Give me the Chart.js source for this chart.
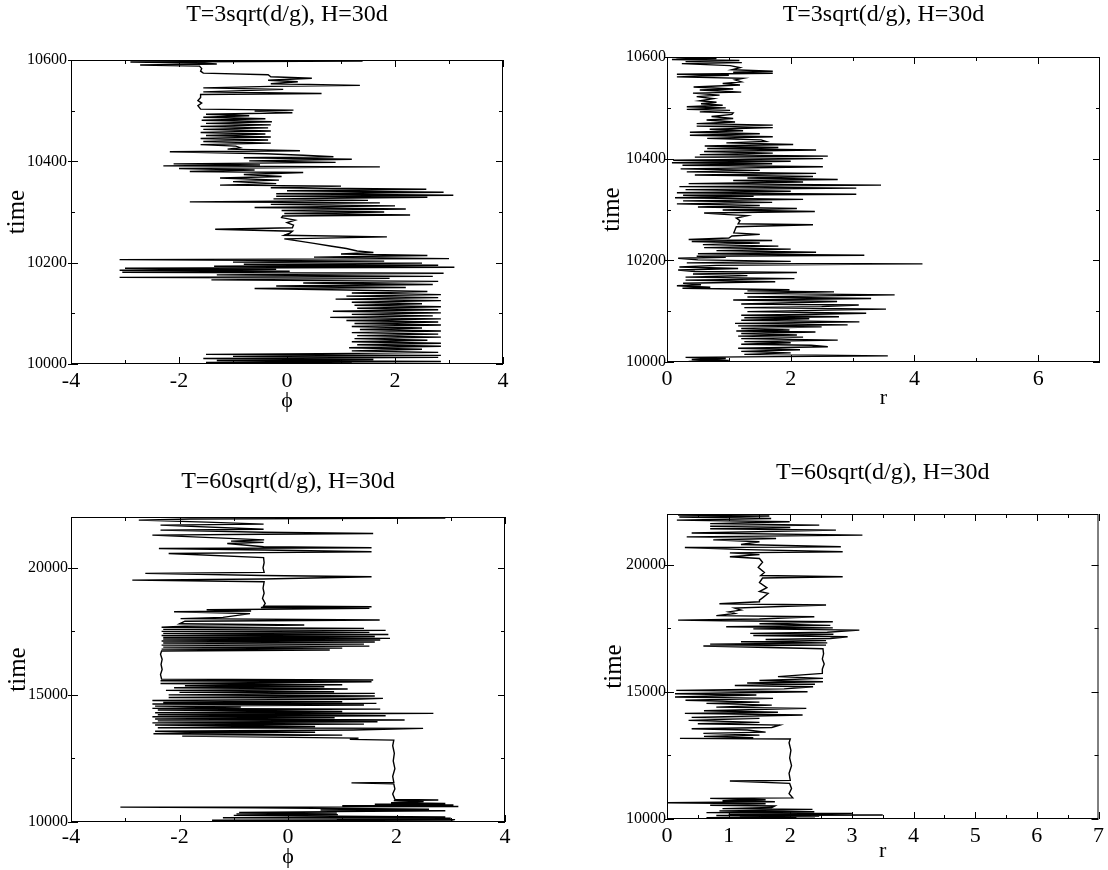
<!DOCTYPE html>
<html lang="en">
<head>
<meta charset="UTF-8">
<title>phi and r against time</title>
<script src="https://cdn.jsdelivr.net/npm/chart.js"></script>
<style>
  body { margin: 0; background: #fff; }
  canvas { position: absolute; }
</style>
</head>
<body>
<canvas id="c1" width="560" height="420" style="left:0px;top:0px"></canvas>
<canvas id="c2" width="548" height="420" style="left:560px;top:0px"></canvas>
<canvas id="c3" width="560" height="450" style="left:0px;top:420px"></canvas>
<canvas id="c4" width="548" height="450" style="left:560px;top:420px"></canvas>

<script>
// panel titles
var titleShort = 'T=3sqrt(d/g), H=30d';
var titleLong = 'T=60sqrt(d/g), H=30d';

// tick values
var phiTicks = [-4, -2, 0, 2, 4];
var phiMinor = [-3, -1, 1, 3];
var rTicksShort = [0, 2, 4, 6];
var rMinorShort = [1, 3, 5];
var rTicksLong = [0, 1, 2, 3, 4, 5, 6, 7];
var rMinorLong = [0.5, 1.5, 2.5, 3.5, 4.5, 5.5, 6.5];
var timeTicksShort = [10000, 10200, 10400, 10600];
var timeMinorShort = [10100, 10300, 10500];
var timeTicksLong = [10000, 15000, 20000];
var timeMinorLong = [12500, 17500];

// traces: [time, value]
var phiShort = [
  [10001,1.2],[10003,-1.5],[10005,2.85],[10007,-1.3],[10009,1.6],[10011,-1.55],[10013,2.8],[10015,-1.0],[10017,2.85],[10019,-1.5],[10021,1.3],
  [10023,2.8],[10026,1.2],[10029,2.5],[10032,1.15],[10035,2.85],[10038,1.3],[10041,2.85],[10044,1.2],[10047,2.6],[10050,1.25],
  [10053,2.85],[10056,1.3],[10059,2.8],[10062,1.2],[10065,2.85],[10068,1.35],[10071,2.5],[10074,1.2],[10077,2.85],[10080,1.25],
  [10083,2.8],[10086,1.1],[10089,2.85],[10092,0.8],[10095,2.7],[10098,1.2],[10101,2.85],[10104,0.85],[10107,2.8],[10110,1.3],
  [10113,2.85],[10116,1.25],[10119,2.5],[10122,1.2],[10125,2.85],[10128,0.9],[10131,2.8],[10134,1.1],[10137,2.85],[10140,1.2],
  [10143,2.6],[10146,1.1],
  [10149,-0.6],[10151,2.2],[10154,-0.2],[10157,2.7],[10160,0.3],[10163,2.8],[10166,-1.4],[10169,1.9],[10171,-3.1],[10173,2.7],
  [10176,-1.3],[10179,2.9],[10181,-3.05],[10183,0.05],[10185,-3.1],[10187,-0.2],[10189,-3.0],[10191,3.1],[10193,-1.35],[10195,2.8],
  [10197,-0.8],[10199,2.5],[10201,-1.0],[10203,1.8],[10206,-3.1],[10208,3.0],[10211,0.5],[10214,2.6],[10217,1.0],[10220,1.6],[10223,1.3],
  [10228,1.1],[10233,0.8],[10238,0.5],[10243,0.2],[10247,-0.05],[10251,1.85],[10254,-0.05],[10258,0.05],[10262,0.1],[10266,-1.33],
  [10269,0.1],[10274,0.12],[10279,0.0],[10284,0.15],[10289,-0.1],[10292,-0.08],[10294,2.28],[10297,-0.05],[10300,1.8],[10303,-0.1],
  [10306,2.2],[10309,-0.6],[10312,2.0],[10315,-0.3],[10318,1.72],[10320,-1.8],[10323,1.5],[10326,-0.25],[10329,2.6],[10331,-0.2],
  [10333,3.08],[10336,-0.2],[10339,2.9],[10342,0.0],[10345,2.58],[10348,-0.3],[10351,1.0],[10353,-1.24],[10356,-0.2],[10360,-1.0],
  [10363,-0.15],[10367,-1.24],[10370,-0.1],[10374,-0.8],[10378,0.3],[10380,-1.8],[10383,-0.6],[10386,-2.0],[10389,1.72],[10391,-2.29],
  [10393,-0.5],[10395,-2.1],[10398,0.9],[10401,-0.7],[10404,1.2],[10407,-0.8],[10409,0.86],[10412,0.3],[10415,-0.4],[10419,-2.17],
  [10421,0.24],[10424,-1.1],[10427,-0.87],[10430,-0.95],
  [10433,-1.6],[10436,-0.3],[10439,-1.55],[10442,-0.35],[10445,-1.6],[10448,-0.3],[10451,-1.5],[10454,-0.4],[10457,-1.6],[10460,-0.3],
  [10463,-1.55],[10466,-0.35],[10469,-1.6],[10472,-0.3],[10475,-1.5],[10478,-0.28],[10481,-1.58],[10484,-0.4],[10487,-1.55],[10490,-0.7],
  [10493,-1.5],[10496,0.1],[10499,-0.6],[10501,0.12],[10503,-1.6],
  [10510,-1.65],[10515,-1.58],[10520,-1.65],[10526,-1.6],[10532,-1.6],[10534,0.64],[10537,-1.55],[10542,-0.07],[10545,-1.55],[10548,-0.3],
  [10550,1.35],[10553,-0.3],[10557,0.2],[10560,-0.35],[10564,0.46],[10567,-0.3],[10571,-0.35],[10574,-1.55],[10578,-1.6],[10583,-1.58],
  [10588,-1.62],[10590,-2.72],[10592,-1.3],[10594,-1.6],[10596,-2.9],[10598,1.4],[10600,-1.5]
];

var rShort = [
  [10001,0.35],[10003,1.0],[10005,0.4],[10007,0.95],[10009,0.3],[10010,1.2],[10012,3.57],[10015,1.25],[10018,2.0],[10021,1.2],
  [10024,2.15],[10027,1.15],[10030,2.6],[10033,2.33],[10035,1.2],[10038,2.0],[10040,1.25],[10043,2.76],[10046,1.2],[10049,2.2],
  [10051,1.15],[10053,2.1],[10056,1.2],[10059,2.4],[10061,1.12],[10063,1.98],[10066,1.2],[10069,2.5],[10071,1.15],[10073,2.92],
  [10076,1.1],[10079,3.11],[10082,1.2],[10085,2.3],[10087,1.25],[10089,2.78],[10092,1.2],[10094,2.4],[10096,3.22],[10099,1.3],
  [10102,2.6],[10104,3.54],[10107,1.25],[10109,2.5],[10112,3.1],[10114,1.2],[10117,2.2],[10119,2.75],[10122,1.07],[10125,3.3],
  [10128,1.3],[10130,2.5],[10132,3.68],[10135,1.25],[10138,2.7],[10140,1.3],[10142,1.98],
  [10145,0.25],[10147,0.7],[10150,0.16],[10152,0.55],[10155,0.26],[10158,1.75],[10161,0.3],[10164,2.06],[10167,0.3],[10170,1.3],
  [10173,0.42],[10176,2.1],[10178,0.45],[10181,0.18],[10184,1.15],[10187,0.2],[10190,0.8],[10193,4.13],[10195,0.32],[10198,2.0],
  [10201,0.5],[10204,0.18],[10206,0.95],[10208,0.48],[10210,3.19],[10213,0.5],[10216,2.41],[10219,0.8],[10222,2.0],[10225,0.6],
  [10228,1.8],[10231,0.58],[10234,1.5],[10237,0.4],[10239,1.7],[10241,0.35],[10244,1.0],
  [10248,1.05],[10251,1.5],[10254,1.08],[10260,1.1],[10266,1.12],[10270,2.36],[10272,1.15],[10278,1.18],[10283,1.12],[10288,1.3],
  [10290,0.99],[10293,0.6],[10296,2.39],[10299,0.9],[10302,2.1],[10305,0.5],[10308,1.5],[10311,0.16],[10314,1.7],[10317,0.26],
  [10320,2.2],[10323,0.13],[10326,1.4],[10328,0.26],[10330,3.06],[10333,0.16],[10336,2.0],[10339,0.3],[10342,3.06],[10345,0.2],
  [10348,3.46],[10351,0.35],[10354,2.2],[10357,1.07],[10359,2.76],[10362,1.3],[10365,2.36],[10368,0.45],[10371,2.41],[10374,0.32],
  [10377,1.5],[10380,0.22],[10384,2.52],[10387,0.25],[10390,1.7],[10392,0.08],[10395,2.0],[10397,0.1],[10400,2.52],[10403,0.45],
  [10405,2.6],[10408,0.53],[10411,1.71],[10414,0.6],[10417,2.41],[10420,0.65],[10422,1.8],[10425,0.61],[10428,2.04],[10431,0.96],
  [10434,1.6],[10437,1.52],[10440,0.65],[10443,1.71],[10446,0.37],[10449,1.5],[10452,0.37],[10455,1.23],[10458,0.69],[10461,1.71],
  [10464,0.48],[10466,1.71],[10469,0.48],[10472,1.1],[10476,0.64],[10479,1.07],[10483,0.72],[10487,1.05],[10490,1.07],[10492,0.53],
  [10495,1.02],[10497,0.32],[10500,0.95],[10502,0.32],[10505,0.9],[10508,0.55],[10511,0.8],[10514,0.53],[10518,0.75],[10522,0.48],
  [10525,0.85],[10529,0.42],[10531,1.2],[10535,0.53],[10537,1.07],[10541,0.43],[10545,1.18],[10548,0.9],[10551,1.2],[10555,1.1],
  [10558,1.23],[10561,0.16],[10564,1.0],[10566,0.16],[10568,1.71],[10570,1.07],[10572,1.71],[10575,1.05],[10579,1.18],[10583,1.02],
  [10587,0.24],[10589,1.21],[10591,0.3],[10593,1.17],[10595,0.08],[10597,0.8],[10599,0.15]
];

var phiLong = [
  [10020,1.0],[10045,3.05],[10070,-1.4],[10095,3.08],[10120,0.9],[10145,3.0],[10170,-1.2],[10200,2.9],[10230,0.85],[10260,-1.0],
  [10290,0.92],[10320,-0.95],[10350,0.9],[10380,-0.9],[10410,0.8],[10440,2.9],[10470,0.6],[10500,2.6],[10530,1.0],[10560,-0.6],
  [10585,-3.09],[10610,3.14],[10640,1.0],[10670,3.05],[10700,1.6],[10730,2.9],[10760,1.9],[10800,2.5],[10840,1.95],[10865,2.77],[10890,1.97],
  [11100,1.93],[11300,1.97],[11500,1.95],[11540,1.17],[11560,1.95],[11800,1.93],[12100,1.97],[12400,1.94],[12700,1.96],[13000,1.93],[13220,1.95],
  [13250,1.14],[13300,1.3],[13380,-1.95],[13420,1.0],[13470,-2.48],[13500,-1.9],
  [13530,0.5],[13570,-2.45],[13620,1.2],[13684,2.49],[13710,-2.4],[13760,0.5],[13815,-2.45],[13850,1.4],[13900,-2.5],[13946,1.65],
  [13980,-2.4],[14011,2.15],[14050,-2.45],[14100,0.86],[14143,-2.5],[14180,1.8],[14220,-2.4],[14274,2.68],[14300,-2.45],[14350,1.0],
  [14405,-2.4],[14440,1.7],[14470,-2.5],[14520,-0.87],[14560,-2.45],[14601,1.4],[14640,-2.5],[14667,1.63],[14700,-2.3],[14733,1.0],
  [14780,-2.5],[14830,1.2],[14864,1.75],[14900,-2.2],[14956,1.6],[15000,-2.2],[15061,1.6],[15100,-2.0],[15126,0.85],[15180,-2.25],
  [15230,1.1],[15280,-2.1],[15323,0.67],[15360,-1.9],[15400,1.0],[15450,-2.35],[15520,1.54],[15560,-2.35],[15585,1.57],[15620,-2.33],
  [15800,-2.35],[16000,-2.32],[16200,-2.34],[16400,-2.32],[16600,-2.35],[16730,-2.33],
  [16765,0.77],[16800,-2.33],[16840,1.0],[16880,-2.3],[16920,1.5],[16960,-2.33],[17000,1.4],[17040,-2.3],[17080,1.6],[17120,-2.33],
  [17160,1.7],[17200,-2.3],[17223,1.88],[17260,-2.3],[17300,1.6],[17340,-2.33],[17380,1.85],[17420,-2.3],[17460,1.5],[17500,-2.33],
  [17540,1.8],[17580,-2.3],[17620,1.4],[17660,-2.33],[17700,-1.9],
  [17750,0.3],[17800,-2.0],[17900,-1.9],[17945,1.69],[18000,-1.98],[18050,-1.2],[18200,-0.7],[18272,-2.1],[18300,-0.68],[18350,-1.5],
  [18404,1.5],[18440,-0.5],[18470,1.54],[18500,-0.45],
  [18600,-0.42],[18800,-0.47],[19000,-0.44],[19200,-0.46],[19450,-0.44],[19518,-2.87],[19560,-0.45],[19650,1.54],[19700,-0.45],[19780,-2.63],
  [19820,-0.44],[20000,-0.46],[20200,-0.44],[20400,-0.45],[20566,-2.2],[20600,-0.45],[20632,1.54],[20700,-0.44],[20763,-2.38],[20790,1.54],
  [20830,-0.45],[20960,-1.12],[21000,-0.45],[21050,-1.05],[21100,-0.44],[21288,-2.5],[21320,-0.45],[21353,1.57],[21400,-0.45],[21484,-2.35],
  [21520,-0.45],[21680,-2.35],[21720,-0.45],[21800,-1.5],[21877,-2.75],[21920,-1.8],[21960,2.9],[21990,-1.5]
];

var rLong = [
  [10010,1.2],[10030,2.4],[10055,0.64],[10080,2.1],[10092,1.18],[10120,2.47],[10140,0.8],[10157,3.5],[10180,1.0],[10200,2.3],
  [10223,3.0],[10250,0.64],[10288,2.39],[10320,0.85],[10350,1.9],[10380,2.36],[10410,0.9],[10450,1.7],[10511,1.75],[10540,0.7],
  [10600,1.6],[10642,0.0],[10680,1.75],[10720,0.9],[10760,1.6],[10813,0.7],[10830,2.04],
  [11000,1.98],[11200,2.02],[11400,1.99],[11495,1.02],[11520,2.0],[11800,1.98],[12100,2.02],[12400,1.99],[12700,2.01],[13000,1.98],
  [13150,2.0],[13172,0.21],
  [13200,1.4],[13250,0.6],[13300,1.5],[13369,0.59],[13420,1.6],[13500,1.3],[13550,0.4],[13600,1.7],[13697,1.83],[13750,0.5],
  [13800,1.5],[13880,0.35],[13960,1.5],[14000,0.4],[14090,2.2],[14156,0.29],[14200,1.8],[14260,0.6],[14352,2.26],[14400,0.8],
  [14480,1.7],[14549,0.64],[14600,1.5],[14670,0.3],[14746,1.72],[14800,0.13],[14877,1.45],[14930,0.13],[15008,2.28],[15060,0.15],
  [15120,1.9],[15205,2.37],[15250,1.1],[15300,2.4],[15350,1.3],[15401,2.53],[15450,1.5],[15532,2.53],[15600,1.8],[15729,2.53],
  [15900,2.52],[16100,2.55],[16300,2.52],[16500,2.54],[16700,2.53],
  [16804,0.59],[16840,2.58],[16880,0.7],[16930,2.6],[16975,1.2],[17020,2.58],[17060,1.6],[17100,2.65],[17171,2.93],[17220,1.4],
  [17270,2.7],[17302,1.35],[17350,2.6],[17433,3.12],[17480,1.4],[17520,2.69],[17564,0.96],[17620,2.65],[17680,1.5],[17761,2.69],
  [17800,0.94],[17826,0.18],[17870,1.5],[17957,2.39],[18000,0.8],[18088,1.1],[18150,1.0],[18220,1.2],[18300,1.1],[18417,2.58],
  [18470,0.85],[18548,1.5],[18613,1.5],
  [18700,1.55],[18875,1.64],[18950,1.5],[19100,1.62],[19300,1.5],[19480,1.55],[19533,2.85],[19580,1.52],[19700,1.58],[19900,1.48],
  [20100,1.55],[20250,1.5],[20318,1.02],[20400,1.5],[20470,1.02],[20514,2.85],[20600,1.3],[20680,0.29],[20711,2.82],[20800,1.2],
  [20908,1.5],[20980,0.75],[21039,1.77],[21100,0.32],[21170,3.17],[21250,0.4],[21366,2.74],[21420,0.7],[21470,2.0],[21520,0.7],
  [21563,2.47],[21620,0.7],[21694,1.99],[21760,0.16],[21825,1.69],[21880,0.2],[21920,1.66],[21960,0.18],[21990,1.4]
];

var serif = "'Liberation Serif', 'Times New Roman', serif";

// boxed frame with inward ticks on all four sides
var frameTicks = {
  id: 'frameTicks',
  afterDatasetsDraw: function(chart, args, opts) {
    var ctx = chart.ctx, a = chart.chartArea;
    var xs = chart.scales.x, ys = chart.scales.y;
    ctx.save();
    ctx.strokeStyle = '#000';
    ctx.lineWidth = 1;
    ctx.strokeRect(a.left + 0.5, a.top + 0.5, a.right - a.left - 1, a.bottom - a.top - 1);
    ctx.beginPath();
    function xTicks(list, len) {
      list.forEach(function(v) {
        var p = Math.round(xs.getPixelForValue(v)) + 0.5;
        ctx.moveTo(p, a.bottom); ctx.lineTo(p, a.bottom - len);
        ctx.moveTo(p, a.top); ctx.lineTo(p, a.top + len);
      });
    }
    function yTicks(list, len, out) {
      list.forEach(function(v) {
        var p = Math.round(ys.getPixelForValue(v)) + 0.5;
        ctx.moveTo(a.left - out, p); ctx.lineTo(a.left + len, p);
        ctx.moveTo(a.right, p); ctx.lineTo(a.right - len, p);
      });
    }
    xTicks(opts.xMajor, 7);
    xTicks(opts.xMinor, 4);
    yTicks(opts.yMajor, 7, 3);
    yTicks(opts.yMinor, 4, 0);
    ctx.stroke();
    ctx.restore();
  }
};

function makeChart(id, trace, o) {
  new Chart(document.getElementById(id), {
    type: 'scatter',
    data: {
      datasets: [{
        data: trace.map(function(p) { return {x: p[1], y: p[0]}; }),
        showLine: true,
        pointRadius: 0,
        borderColor: '#000',
        borderWidth: 1.4,
        tension: 0
      }]
    },
    options: {
      responsive: false,
      animation: false,
      events: [],
      devicePixelRatio: 1,
      layout: { padding: { left: 0, top: 0, right: o.padRight, bottom: 0 } },
      plugins: {
        legend: { display: false },
        tooltip: { enabled: false },
        title: {
          display: true,
          text: o.title,
          fullSize: false,
          color: '#000',
          font: { family: serif, size: 24, weight: 'normal' },
          padding: { top: o.titleTop, bottom: o.titleBottom }
        },
        frameTicks: { xMajor: o.xTicks, xMinor: o.xMinor, yMajor: o.yTicks, yMinor: o.yMinor }
      },
      scales: {
        x: {
          type: 'linear',
          min: o.xMin,
          max: o.xMax,
          grid: { display: false, drawTicks: false },
          border: { display: false },
          afterBuildTicks: function(s) { s.ticks = o.xTicks.map(function(v) { return {value: v}; }); },
          afterFit: function(s) { s.height = o.xHeight; },
          ticks: {
            autoSkip: false,
            maxRotation: 0,
            padding: o.xTickPad,
            color: '#000',
            font: { family: serif, size: 22 },
            callback: function(v) { return String(v); }
          },
          title: {
            display: true,
            text: o.xTitle,
            color: '#000',
            font: { family: serif, size: 22 },
            padding: { top: 0, bottom: o.xTitlePad }
          }
        },
        y: {
          type: 'linear',
          min: o.yMin,
          max: o.yMax,
          grid: { display: false, drawTicks: false },
          border: { display: false },
          afterBuildTicks: function(s) { s.ticks = o.yTicks.map(function(v) { return {value: v}; }); },
          afterFit: function(s) { s.width = o.yWidth; },
          ticks: {
            autoSkip: false,
            padding: o.yTickPad,
            color: '#000',
            font: { family: serif, size: 16 },
            callback: function(v) { return String(v); }
          },
          title: {
            display: true,
            text: 'time',
            color: '#000',
            font: { family: serif, size: 25 },
            padding: { top: o.yTitlePad, bottom: 0 }
          }
        }
      }
    },
    plugins: [frameTicks]
  });
}

makeChart('c1', phiShort, {
  title: titleShort, titleTop: 0.6, titleBottom: 30.6, padRight: 57,
  xMin: -4, xMax: 4, xTicks: phiTicks, xMinor: phiMinor, xTitle: 'ϕ', xHeight: 56, xTickPad: 4, xTitlePad: 6,
  yMin: 10000, yMax: 10600, yTicks: timeTicksShort, yMinor: timeMinorShort, yWidth: 71, yTickPad: 4, yTitlePad: 2
});
makeChart('c2', rShort, {
  title: titleShort, titleTop: 0, titleBottom: 28.2, padRight: 8,
  xMin: 0, xMax: 7, xTicks: rTicksShort, xMinor: rMinorShort, xTitle: 'r', xHeight: 58, xTickPad: 4, xTitlePad: 9,
  yMin: 10000, yMax: 10600, yTicks: timeTicksShort, yMinor: timeMinorShort, yWidth: 107, yTickPad: 1, yTitlePad: 37
});
makeChart('c3', phiLong, {
  title: titleLong, titleTop: 47.6, titleBottom: 20.6, padRight: 55,
  xMin: -4, xMax: 4, xTicks: phiTicks, xMinor: phiMinor, xTitle: 'ϕ', xHeight: 48, xTickPad: 2, xTitlePad: 0,
  yMin: 10000, yMax: 22000, yTicks: timeTicksLong, yMinor: timeMinorLong, yWidth: 71, yTickPad: 3, yTitlePad: 3
});
makeChart('c4', rLong, {
  title: titleLong, titleTop: 38.6, titleBottom: 26.6, padRight: 8,
  xMin: 0, xMax: 7, xTicks: rTicksLong, xMinor: rMinorLong, xTitle: 'r', xHeight: 51, xTickPad: 4, xTitlePad: 6,
  yMin: 10000, yMax: 22000, yTicks: timeTicksLong, yMinor: timeMinorLong, yWidth: 107, yTickPad: 1, yTitlePad: 39
});
</script>
</body>
</html>
